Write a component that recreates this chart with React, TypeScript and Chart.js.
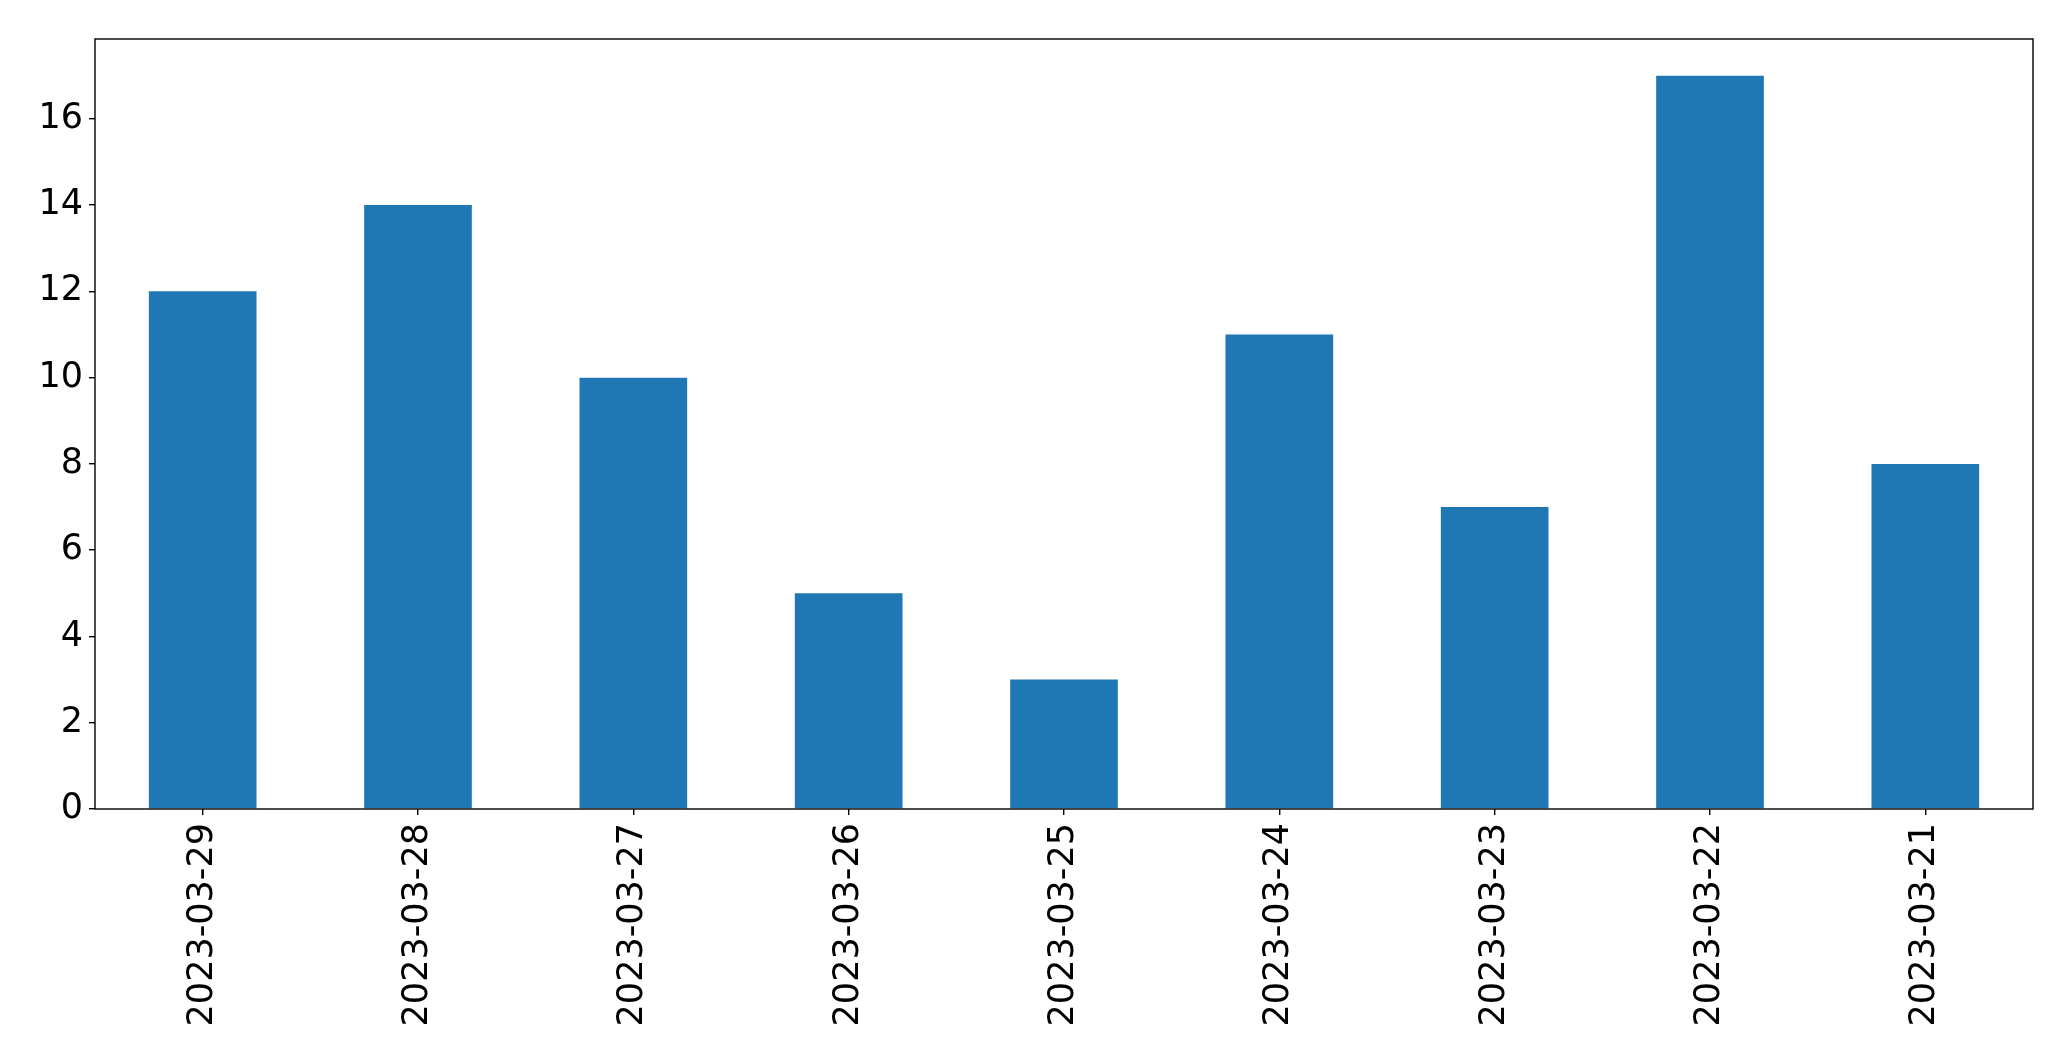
import React, { useEffect, useRef } from "react";
import { Chart, registerables } from "chart.js";

Chart.register(...registerables);

const categories: string[] = [
  "2023-03-29", "2023-03-28", "2023-03-27", "2023-03-26", "2023-03-25",
  "2023-03-24", "2023-03-23", "2023-03-22", "2023-03-21",
];
const counts: number[] = [12, 14, 10, 5, 3, 11, 7, 17, 8];
const yTickStep = 2;
const yMax = 17.85;

const W = 2071;
const H = 1061;

const frame = {
  id: "frame",
  afterDraw(chart: any) {
    const { ctx, chartArea: a } = chart;
    ctx.save();
    ctx.strokeStyle = "#000";
    ctx.lineWidth = 1.4;
    ctx.strokeRect(a.left, a.top, a.right - a.left, a.bottom - a.top);
    ctx.restore();
  },
};

export default function App() {
  const ref = useRef<HTMLCanvasElement | null>(null);
  useEffect(() => {
    if (!ref.current) return;
    const font = { family: "'DejaVu Sans', sans-serif", size: 35 };
    const chart = new Chart(ref.current, {
      type: "bar",
      data: {
        labels: categories,
        datasets: [
          {
            data: counts,
            backgroundColor: "#1f77b4",
            categoryPercentage: 1,
            barPercentage: 0.5,
          },
        ],
      },
      options: {
        animation: false,
        responsive: false,
        devicePixelRatio: 1,
        layout: { padding: { top: 39, right: 38, left: 0, bottom: 0 } },
        plugins: { legend: { display: false }, tooltip: { enabled: false } },
        scales: {
          x: {
            grid: { offset: false, drawOnChartArea: false, drawTicks: true, tickLength: 6, color: "#000", lineWidth: 1.4 },
            border: { display: false },
            ticks: { color: "#000", font, minRotation: 90, maxRotation: 90, padding: 8, autoSkip: false },
            afterFit: (s: any) => { s.height = H - 809; },
          },
          y: {
            min: 0,
            max: yMax,
            grid: { drawOnChartArea: false, drawTicks: true, tickLength: 6, color: "#000", lineWidth: 1.4 },
            border: { display: false },
            ticks: { color: "#000", font, stepSize: yTickStep, includeBounds: false, padding: 6 },
            afterFit: (s: any) => { s.width = 95; },
          },
        },
      },
      plugins: [frame],
    });
    return () => chart.destroy();
  }, []);
  return (
    <div style={{ position: "fixed", left: 0, top: 0, width: W, height: H, background: "#fff" }}>
      <canvas ref={ref} width={W} height={H} style={{ width: W, height: H }} />
    </div>
  );
}
